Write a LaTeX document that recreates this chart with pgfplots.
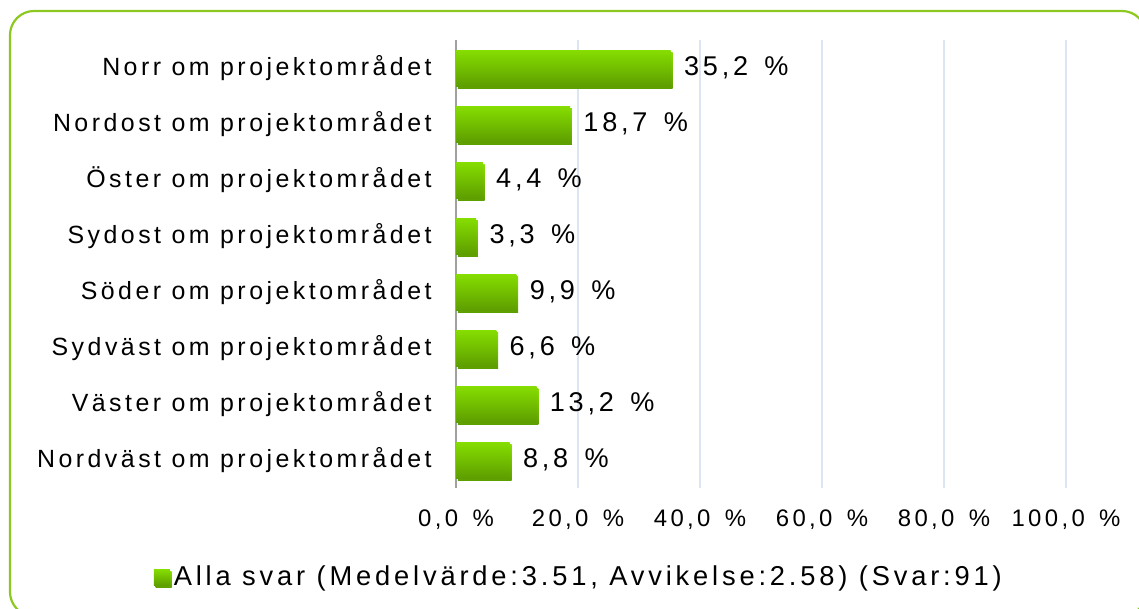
\documentclass[border=0pt]{standalone}
\usepackage{pgfplots}
\pgfplotsset{compat=1.18}
\usepackage{fontspec}
\setmainfont[LetterSpace=14]{Liberation Sans}
\definecolor{frame}{HTML}{8CC820}
\definecolor{barTop}{HTML}{86DE00}
\definecolor{barBot}{HTML}{5E9E00}
\definecolor{gridc}{HTML}{DCE6F2}
\definecolor{axisc}{HTML}{A0A0A0}
\newcommand\myws{\hspace{0.42em}}
\newcommand\mypc{\hspace{0.6em}}
\pgfplotsset{mybar/.style={xbar, bar width=18bp, bar shift=0pt, draw=none, top color=barTop, bottom color=barBot,
  preaction={fill=black!10, transform canvas={xshift=0.9bp, yshift=-1.2bp}}}}
\begin{document}
\fontsize{12}{14}\selectfont
\begin{tikzpicture}[x=0.5bp,y=0.5bp]
\useasboundingbox (0,0) rectangle (1139,608);
\draw[frame, line width=1.1bp, rounded corners=12bp] (10,-8) rectangle (1146,597);
\begin{axis}[
  at={(228bp,60bp)}, anchor=south west,
  scale only axis, width=305bp, height=224bp,
  xmin=0, xmax=100, ymin=-0.5, ymax=7.5, y dir=reverse,
  xtick={0,20,40,60,80,100},
  ytick={0,...,7},
  yticklabels={Norr\myws om\myws projektområdet, Nordost\myws om\myws projektområdet, Öster\myws om\myws projektområdet, Sydost\myws om\myws projektområdet, Söder\myws om\myws projektområdet, Sydväst\myws om\myws projektområdet, Väster\myws om\myws projektområdet, Nordväst\myws om\myws projektområdet},
  /pgf/number format/assume math mode=true,
  xticklabel={\pgfmathprintnumber[fixed,fixed zerofill,precision=1,use comma]{\tick}\mypc\%},
  xticklabel style={yshift=-6.5bp, font=\fontsize{12}{14}\selectfont},
  yticklabel style={xshift=-8bp, font=\fontsize{12.5}{14}\selectfont},
  major tick length=0pt,
  xmajorgrids, grid style={gridc, line width=1bp},
  axis y line*=left,
  axis line style={axisc, line width=0.9bp},
  separate axis lines,
  x axis line style={draw=none},
  legend style={at={(0.203,-0.199)}, anchor=center, draw=none, fill=none, font=\fontsize{13.7}{15}\selectfont, inner sep=0pt},
  legend image code/.code={\shade[top color=barTop, bottom color=barBot] (0bp,-4bp) rectangle (8bp,4bp);},
  nodes near coords={\pgfmathprintnumber[fixed,fixed zerofill,precision=1,use comma]{\pgfplotspointmeta}\mypc\%},
  nodes near coords style={anchor=west, xshift=2.5bp, font=\fontsize{13.6}{16}\selectfont, text=black},
  point meta=x,
]
\addplot[mybar] coordinates {(35.2,0)};
\addlegendentry{Alla\myws svar\myws (Medelvärde:3.51,\myws Avvikelse:2.58)\myws (Svar:91)}
\addplot[mybar, forget plot] coordinates {(18.7,1)};
\addplot[mybar, forget plot] coordinates {(4.4,2)};
\addplot[mybar, forget plot] coordinates {(3.3,3)};
\addplot[mybar, forget plot] coordinates {(9.9,4)};
\addplot[mybar, forget plot] coordinates {(6.6,5)};
\addplot[mybar, forget plot] coordinates {(13.2,6)};
\addplot[mybar, forget plot] coordinates {(8.8,7)};
\end{axis}
\end{tikzpicture}
\end{document}
